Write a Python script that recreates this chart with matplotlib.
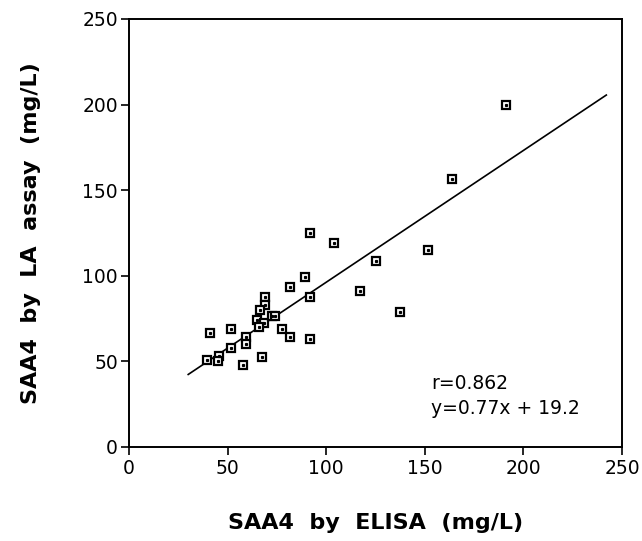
import matplotlib
matplotlib.use("Agg")
import matplotlib.pyplot as plt
import numpy as np

plt.rcParams['font.family'] = ['DejaVu Sans']

# SAA4 values (mg/L)
elisa = [41.1, 51.6, 59.2, 59.2, 51.6, 45.7, 45.3, 39.4, 67.3, 57.7,
         65.1, 68.2, 66.0, 72.4, 74.1, 77.5, 81.7, 69.0, 69.0, 66.5,
         81.7, 89.0, 91.5, 91.5, 91.9, 103.7, 117.3, 125.4, 137.2, 151.4,
         163.5, 190.9]
la = [66.8, 68.9, 64.4, 60.2, 58.0, 53.2, 50.4, 50.8, 52.7, 47.9,
      74.2, 72.2, 70.3, 76.7, 76.7, 68.9, 64.1, 87.4, 82.9, 80.0,
      93.3, 99.1, 87.8, 62.9, 124.8, 119.0, 91.3, 108.3, 79.0, 115.1,
      156.5, 199.8]

slope = 0.77
intercept = 19.2
fit_x = [30, 242]

ticks = [0, 50, 100, 150, 200, 250]

fig = plt.figure(figsize=(6.42, 5.41), dpi=100)
ax = fig.add_axes([0.201, 0.174, 0.768, 0.791])

fx = np.array(fit_x)
ax.plot(fx, slope * fx + intercept, color='black', lw=1.2)

ax.plot(elisa, la, ls='none', marker='s', ms=5.8, mfc='white', mec='black', mew=1.6)
ax.plot(elisa, la, ls='none', marker='s', ms=1.3, mfc='black', mec='black')

ax.set_xlim(0, 250)
ax.set_ylim(0, 250)
ax.set_xticks(ticks)
ax.set_yticks(ticks)
ax.tick_params(direction='out', length=6, width=1.2, labelsize=13.5, top=False, right=False)
ax.tick_params(axis='x', pad=3)
ax.tick_params(axis='y', pad=2)
for s in ax.spines.values():
    s.set_linewidth(1.4)

ax.text(153, 34, 'r=0.862', fontsize=13.5, va='baseline')
ax.text(153, 19.3, 'y=0.77x + 19.2', fontsize=13.5, va='baseline')

ax.set_xlabel('SAA4  by  ELISA  (mg/L)', fontsize=16, fontweight='bold', labelpad=25)
ax.set_ylabel('SAA4  by  LA  assay  (mg/L)', fontsize=16, fontweight='bold', labelpad=30)

fig.savefig('out.png', dpi=100)
